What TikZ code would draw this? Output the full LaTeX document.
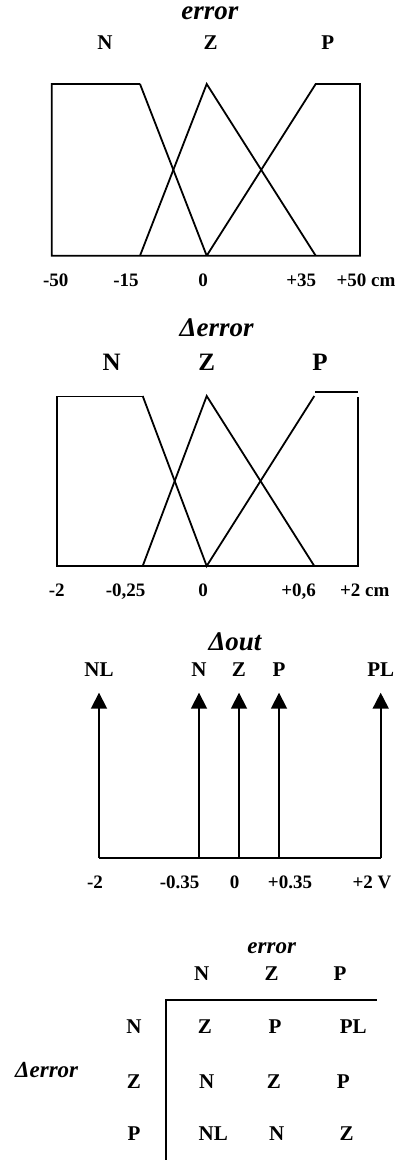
\documentclass[tikz,border=0pt]{standalone}
\usepackage{fontspec}
\setmainfont{Liberation Serif}
\usetikzlibrary{arrows.meta}

\begin{document}
\begin{tikzpicture}[x=1pt, y=-1pt,
    mf/.style={line width=1.8pt, line join=miter},
    thinmf/.style={line width=1pt},
    vec/.style={line width=1.8pt, -{Triangle[width=16pt, length=16pt]}},
    ttl/.style={anchor=base, font=\fontsize{27}{27}\selectfont\bfseries\itshape},
    lbl/.style={anchor=base, font=\fontsize{21}{21}\selectfont\bfseries},
    biglbl/.style={anchor=base, font=\fontsize{25}{25}\selectfont\bfseries},
    tick/.style={anchor=base, font=\fontsize{19}{19}\selectfont\bfseries},
    cell/.style={anchor=base, font=\fontsize{21}{21}\selectfont\bfseries}
]
    \useasboundingbox (0,0) rectangle (397,1162);

    % error
    \node[ttl] (e1) at (210,19) {error};
    \node[lbl] (e1N) at (105,49) {N};
    \node[lbl] (e1Z) at (210.7,49) {Z};
    \node[lbl] (e1P) at (327.8,49) {P};
    \draw[mf] (140,84) -- (51.7,84) -- (51.7,255.7) -- (360,255.7) -- (360,84) -- (315.7,84) -- (206.7,255.7);
    \draw[mf] (140,84) -- (206.7,255.7);
    \draw[mf] (140,255.7) -- (206.7,84) -- (315.7,255.7);
    \node[tick] (e1a) at (55.8,286.5) {-50};
    \node[tick] (e1b) at (126,286.5) {-15};
    \node[tick] (e1c) at (203,286.5) {0};
    \node[tick] (e1d) at (301.3,286.5) {+35};
    \node[tick] (e1e) at (366,286.5) {+50 cm};

    % delta error
    \node[ttl] (e2) at (216.7,336) {Δerror};
    \node[biglbl] (e2N) at (111.7,370.5) {N};
    \node[biglbl] (e2Z) at (206.7,370.5) {Z};
    \node[biglbl] (e2P) at (320,370.5) {P};
    \draw[thinmf] (56.7,396) -- (142.7,396);
    \draw[mf] (56.7,396) -- (56.7,566) -- (358.3,566) -- (358.3,397);
    \draw[mf] (315,392.3) -- (358.3,392.3);
    \draw[mf] (142.7,396) -- (206.7,566) -- (314.3,396);
    \draw[mf] (142.7,566) -- (206.7,396) -- (314.3,566);
    \node[tick] (e2a) at (56.7,596) {-2};
    \node[tick] (e2b) at (125.7,596) {-0,25};
    \node[tick] (e2c) at (203,596) {0};
    \node[tick] (e2d) at (298.7,596) {+0,6};
    \node[tick] (e2e) at (364.7,596) {+2 cm};

    % delta out
    \node[ttl] (o) at (235,650) {Δout};
    \draw[mf] (99,857.7) -- (380.7,857.7);
    \foreach \x/\name/\val/\vx in {99/NL/-2/95, 199/N/-0.35/179.7, 239/Z/0/234.5, 279/P/+0.35/290, 380.7/PL/+2 V/372} {
        \draw[vec] (\x,857.7) -- (\x,692.7);
        \node[lbl] (o\name) at (\x,676) {\name};
        \node[tick] (v\name) at (\vx,888.5) {\val};
    }

    % rules
    \node[ttl, font=\fontsize{23}{23}\selectfont\bfseries\itshape] (r) at (271.7,953.3) {error};
    \node[ttl, font=\fontsize{23}{23}\selectfont\bfseries\itshape] (rd) at (46.7,1077) {Δerror};
    \draw[mf] (376.7,1000) -- (166,1000) -- (166,1160);
    \node[cell] (cN) at (201.7,980) {N};
    \node[cell] (cZ) at (271.7,980) {Z};
    \node[cell] (cP) at (340,980) {P};
    \node[cell] (rN) at (134,1033.3) {N};
    \node[cell] (rZ) at (134,1088.3) {Z};
    \node[cell] (rP) at (134,1140.5) {P};
    \node[cell] (c11) at (205,1033.3) {Z};
    \node[cell] (c12) at (275,1033.3) {P};
    \node[cell] (c13) at (353.3,1033.3) {PL};
    \node[cell] (c21) at (206.7,1088.3) {N};
    \node[cell] (c22) at (274,1088.3) {Z};
    \node[cell] (c23) at (343.3,1088.3) {P};
    \node[cell] (c31) at (213.3,1140.5) {NL};
    \node[cell] (c32) at (276.7,1140.5) {N};
    \node[cell] (c33) at (346.7,1140.5) {Z};
\end{tikzpicture}
\end{document}
